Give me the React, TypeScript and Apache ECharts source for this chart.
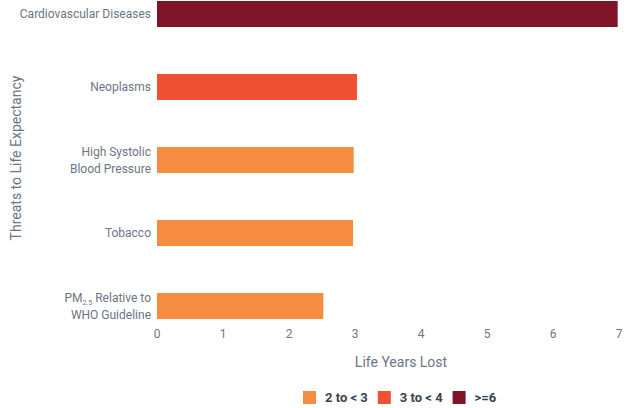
import React, { useEffect, useRef } from "react";
import * as echarts from "echarts";

const categories = [
  "Cardiovascular Diseases",
  "Neoplasms",
  "High Systolic\nBlood Pressure",
  "Tobacco",
  "PM2.5 Relative to\nWHO Guideline",
];
const groupNames = ["2 to < 3", "3 to < 4", ">=6"];
const groupColors = ["#f58c40", "#f05133", "#7f1428"];
const values2to3 = [null, null, 2.98, 2.97, 2.52];
const values3to4 = [null, 3.03, null, null, null];
const values6plus = [6.98, null, null, null, null];
const xTicks = [0, 1, 2, 3, 4, 5, 6, 7];

export default function App() {
  const ref = useRef<HTMLDivElement>(null);
  useEffect(() => {
    if (!ref.current) return;
    const chart = echarts.init(ref.current, null, { renderer: "svg" });
    const labelColor = "#6b7684";
    const font = "Roboto, 'Noto Sans', sans-serif";
    const seriesData = [values2to3, values3to4, values6plus];
    chart.setOption({
      animation: false,
      textStyle: { fontFamily: font },
      grid: {
        left: 157,
        right: 10,
        top: -22.5,
        bottom: 65.5,
        containLabel: false,
        outerBoundsMode: "none",
      },
      legend: {
        left: 303,
        top: 391,
        padding: 0,
        itemWidth: 13,
        itemHeight: 13,
        itemGap: 10,
        icon: "rect",
        data: groupNames,
        textStyle: {
          color: "#3a424d",
          fontWeight: "bold",
          fontSize: 13,
          fontFamily: font,
          padding: [0, 0, 0, 4],
        },
      },
      xAxis: {
        type: "value",
        min: xTicks[0],
        max: xTicks[xTicks.length - 1],
        interval: 1,
        offset: -22.5,
        name: "Life Years Lost",
        nameLocation: "middle",
        nameGap: 35,
        nameMoveOverlap: false,
        nameTextStyle: { color: labelColor, fontSize: 14, fontFamily: font, padding: [0, 0, 0, 26] },
        axisLine: { show: false },
        axisTick: { show: false },
        splitLine: { show: false },
        axisLabel: { color: labelColor, fontSize: 12, margin: 8, fontFamily: font },
      },
      yAxis: {
        type: "category",
        inverse: true,
        data: categories,
        name: "Threats to Life Expectancy",
        nameLocation: "middle",
        nameGap: 134,
        nameMoveOverlap: false,
        nameRotate: 90,
        nameTextStyle: {
          color: labelColor,
          fontSize: 14,
          fontFamily: font,
          padding: [0, 0, 0, 4],
        },
        axisLine: { show: false },
        axisTick: { show: false },
        axisLabel: {
          color: labelColor,
          fontSize: 12,
          margin: 6,
          lineHeight: 17,
          fontFamily: font,
          formatter: (v: string) => {
            if (v.startsWith("PM2.5")) {
              return "{a|PM}{sub|2.5}{a| Relative to}\n{a|WHO Guideline}";
            }
            return v;
          },
          rich: {
            a: { color: labelColor, fontSize: 12, fontFamily: font, lineHeight: 17 },
            sub: { color: labelColor, fontSize: 7, fontFamily: font, verticalAlign: "bottom", padding: [6, 0, 0, 0], lineHeight: 17 },
          },
        },
      },
      series: groupNames.map((name, i) => ({
        name,
        type: "bar",
        data: seriesData[i],
        barWidth: 26,
        barGap: "-100%",
        itemStyle: { color: groupColors[i] },
      })),
    });
    return () => chart.dispose();
  }, []);
  return <div ref={ref} style={{ width: 629, height: 408, position: "absolute", left: 0, top: 0 }} />;
}
